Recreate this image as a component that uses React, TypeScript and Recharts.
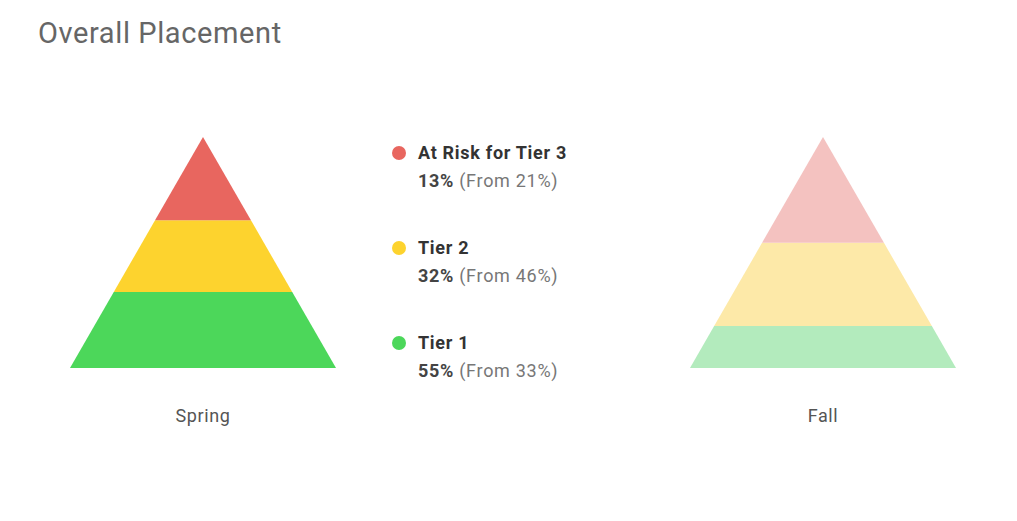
import { BarChart, Bar, XAxis, YAxis, Legend, Cell } from "recharts";

// categories (middle slot is empty, it holds the legend)
const seasons = ["Spring", "", "Fall"];

// tiers, bottom of the pyramid first
const tierKeys = ["tier1", "tier2", "tier3"];
const tierNames = ["Tier 1", "Tier 2", "At Risk for Tier 3"];

// placement percentages per tier
const springPct = [55, 32, 13];
const fallPct = [33, 46, 21];

const strongColors = ["#4cd75a", "#fdd32e", "#e8665f"];
const fadedColors = ["#b3ebbd", "#fde9a8", "#f4c2c0"];

const FONT = "Roboto, 'Noto Sans', sans-serif";
const BASE_WIDTH = 266;

// layer heights so that each layer's area matches its percentage
function layerHeights(pct: number[]) {
  const out: Record<string, number> = {};
  for (let i = 0; i < pct.length; i++) {
    let above = 0;
    for (let j = i + 1; j < pct.length; j++) above += pct[j];
    out[tierKeys[i]] = Math.sqrt((above + pct[i]) / 100) - Math.sqrt(above / 100);
  }
  return out;
}

const data = seasons.map((season, i) => {
  if (i === 0) return { season, ...layerHeights(springPct) };
  if (i === 2) return { season, ...layerHeights(fallPct) };
  return { season, tier1: 0, tier2: 0, tier3: 0 };
});

const makeShape = (layer: number) => (props: any) => {
  const { x, y, width, height, fill, payload } = props;
  const value = payload[tierKeys[layer]];
  if (!value || !height) return <g />;
  let lower = 0;
  for (let j = 0; j < layer; j++) lower += payload[tierKeys[j]];
  const pxPerUnit = height / value;
  const baseY = y + height + lower * pxPerUnit;
  const apexY = baseY - pxPerUnit;
  const cx = x + width / 2;
  const half = (yy: number) => (BASE_WIDTH / 2) * ((yy - apexY) / (baseY - apexY));
  const top = y;
  const bot = y + height;
  const pts = [
    [cx - half(top), top],
    [cx + half(top), top],
    [cx + half(bot), bot],
    [cx - half(bot), bot],
  ]
    .map((p) => p.join(","))
    .join(" ");
  return <polygon points={pts} fill={fill} />;
};

function PlacementLegend() {
  const order = [2, 1, 0];
  return (
    <div style={{ fontFamily: FONT, fontSize: 18, letterSpacing: 0.7 }}>
      {order.map((i) => (
        <div key={i} style={{ position: "relative", height: 95, paddingLeft: 26 }}>
          <span
            style={{
              position: "absolute",
              left: 0,
              top: 7,
              width: 14,
              height: 14,
              borderRadius: 7,
              background: strongColors[i],
            }}
          />
          <div style={{ lineHeight: "28px", fontWeight: 700, color: "#333" }}>
            {tierNames[i]}
          </div>
          <div style={{ lineHeight: "28px", color: "#777" }}>
            <span style={{ fontWeight: 700, color: "#444" }}>{springPct[i]}%</span>{" "}
            (From {fallPct[i]}%)
          </div>
        </div>
      ))}
    </div>
  );
}

export default function App() {
  return (
    <div style={{ position: "relative", margin: -8, width: 1017, height: 521, background: "#fff" }}>
      <div
        style={{
          position: "absolute",
          left: 38,
          top: 19,
          fontFamily: FONT,
          fontSize: 29,
          letterSpacing: 0.6,
          lineHeight: "29px",
          color: "#666",
          zIndex: 2,
        }}
      >
        Overall Placement
      </div>
      <BarChart
        width={1017}
        height={521}
        data={data}
        margin={{ top: 137, right: 39, bottom: 93, left: 48 }}
      >
        <XAxis
          dataKey="season"
          axisLine={false}
          tickLine={false}
          tickMargin={35}
          height={60}
          tick={{ fill: "#555", fontSize: 18, fontFamily: FONT, letterSpacing: 0.6 }}
        />
        <YAxis hide domain={[0, 1]} />
        <Legend
          layout="vertical"
          align="center"
          verticalAlign="middle"
          content={() => <PlacementLegend />}
          wrapperStyle={{ left: 392, top: 139, width: 240 }}
        />
        {tierKeys.map((key, layer) => (
          <Bar
            key={key}
            dataKey={key}
            name={tierNames[layer]}
            stackId="p"
            fill={strongColors[layer]}
            shape={makeShape(layer)}
            isAnimationActive={false}
          >
            {data.map((d, i) => (
              <Cell key={i} fill={i === 2 ? fadedColors[layer] : strongColors[layer]} />
            ))}
          </Bar>
        ))}
      </BarChart>
    </div>
  );
}
